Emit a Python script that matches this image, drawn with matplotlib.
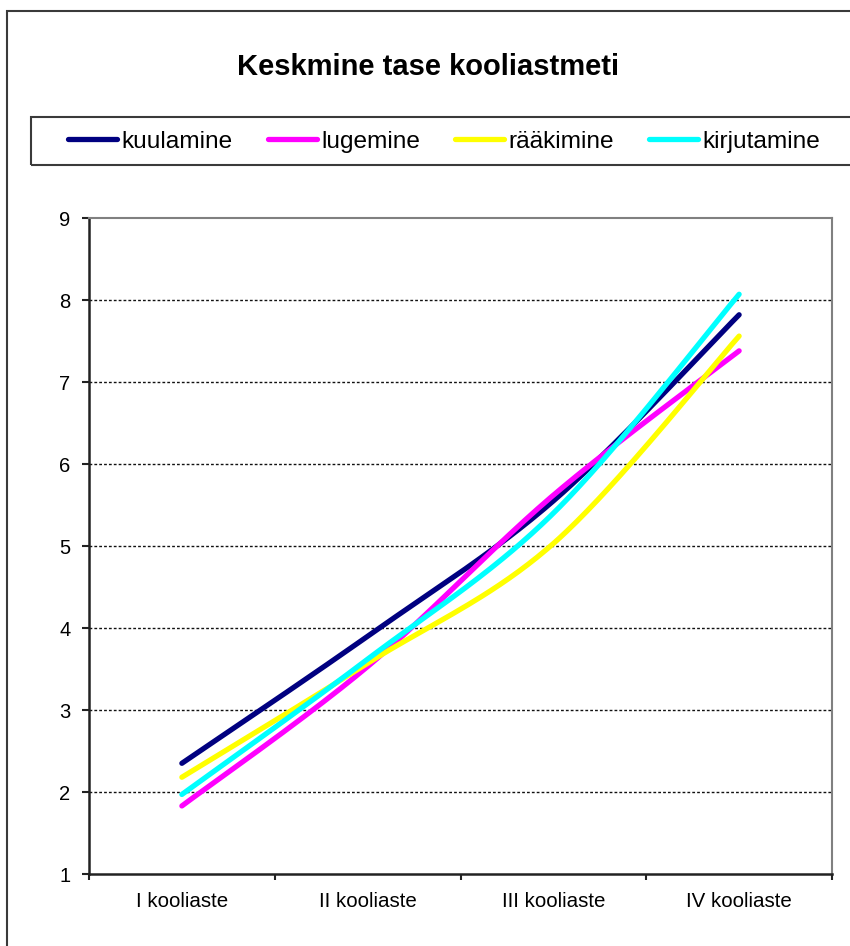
import numpy as np
import matplotlib
matplotlib.use("Agg")
import matplotlib.pyplot as plt
from matplotlib.patches import Rectangle
from matplotlib.lines import Line2D

plt.rcParams['font.family'] = ['Liberation Sans', 'DejaVu Sans']

# Data
categories = ["I kooliaste", "II kooliaste", "III kooliaste", "IV kooliaste"]
kuulamine = [2.35, 3.90, 5.55, 7.82]
lugemine = [1.83, 3.53, 5.62, 7.38]
raakimine = [2.18, 3.57, 5.03, 7.56]
kirjutamine = [1.97, 3.62, 5.40, 8.07]

series_names = ["kuulamine", "lugemine", "rääkimine", "kirjutamine"]
series_values = [kuulamine, lugemine, raakimine, kirjutamine]
series_colors = ["#000080", "#FF00FF", "#FFFF00", "#00FFFF"]
y_ticks = [1, 2, 3, 4, 5, 6, 7, 8, 9]
title = "Keskmine tase kooliastmeti"


def smooth_curve(xs, ys, steps=60):
    """Bezier smoothing through every point (Catmull-Rom style control points)."""
    pts = np.column_stack([xs, ys]).astype(float)
    n = len(pts)
    out = []
    t = np.linspace(0, 1, steps)[:, None]
    for i in range(n - 1):
        p0 = pts[i]
        p1 = pts[i + 1]
        pm = pts[i - 1] if i > 0 else pts[i]
        pn = pts[i + 2] if i + 2 < n else pts[i + 1]
        c1 = p0 + (p1 - pm) / 6.0
        c2 = p1 - (pn - p0) / 6.0
        seg = ((1 - t) ** 3) * p0 + 3 * ((1 - t) ** 2) * t * c1 + 3 * (1 - t) * t ** 2 * c2 + t ** 3 * p1
        out.append(seg if i == 0 else seg[1:])
    seg = np.vstack(out)
    return seg[:, 0], seg[:, 1]


W, H = 850, 946
fig = plt.figure(figsize=(W / 100, H / 100), dpi=100)
fig.patch.set_facecolor("white")


def fx(px):
    return px / W


def fy(py):
    return 1 - py / H


# Chart area border
fig.add_artist(Rectangle((fx(7), fy(1000)), fx(900) - fx(7), fy(11) - fy(1000),
                         transform=fig.transFigure, fill=False,
                         edgecolor="#3a3a3a", linewidth=1.5, clip_on=False))

# Title
fig.text(fx(428), fy(67), title, ha="center", va="center",
         fontsize=21, fontweight="bold", color="black")

# Plot area
ax = fig.add_axes([fx(89), fy(874), fx(832) - fx(89), fy(218) - fy(874)])
x = np.arange(len(categories))
for vals, col, name in zip(series_values, series_colors, series_names):
    sx, sy = smooth_curve(x, vals)
    ax.plot(sx, sy, color=col, linewidth=3.8, solid_capstyle="round", label=name, zorder=3)

ax.set_xlim(-0.5, len(categories) - 0.5)
ax.set_ylim(y_ticks[0], y_ticks[-1])
ax.set_yticks(y_ticks)
ax.set_yticklabels([str(v) for v in y_ticks])
ax.set_xticks(x)
ax.set_xticklabels(categories)
ax.set_xticks(np.arange(-0.5, len(categories), 1.0), minor=True)

ax.tick_params(axis="y", direction="out", length=5, width=1.5, pad=8.5,
               labelsize=14.5, colors="#222222", labelcolor="black")
ax.tick_params(axis="x", which="major", length=0, pad=13, labelsize=14.8, labelcolor="black")
ax.tick_params(axis="x", which="minor", direction="out", length=4, width=1.5, color="#222222")

for yv in y_ticks[1:-1]:
    ax.axhline(yv, color="#111111", linewidth=1.0, linestyle=(0, (2, 1.5)), zorder=1)

for side in ["left", "bottom"]:
    ax.spines[side].set_color("#222222")
    ax.spines[side].set_linewidth(1.8)
for side in ["top", "right"]:
    ax.spines[side].set_color("#808080")
    ax.spines[side].set_linewidth(1.5)

# Legend
fig.add_artist(Rectangle((fx(31), fy(165)), fx(900) - fx(31), fy(117) - fy(165),
                         transform=fig.transFigure, fill=False,
                         edgecolor="#3a3a3a", linewidth=1.5, clip_on=False))
handles = [Line2D([], [], color=c, linewidth=3.8, solid_capstyle="round") for c in series_colors]
fig.legend(handles, series_names, loc="center left", bbox_to_anchor=(fx(68), fy(142)),
           ncol=4, frameon=False, fontsize=17.6, borderpad=0, borderaxespad=0,
           handlelength=2.0, handletextpad=0.2, columnspacing=1.42)

fig.savefig("out.png", dpi=100)
